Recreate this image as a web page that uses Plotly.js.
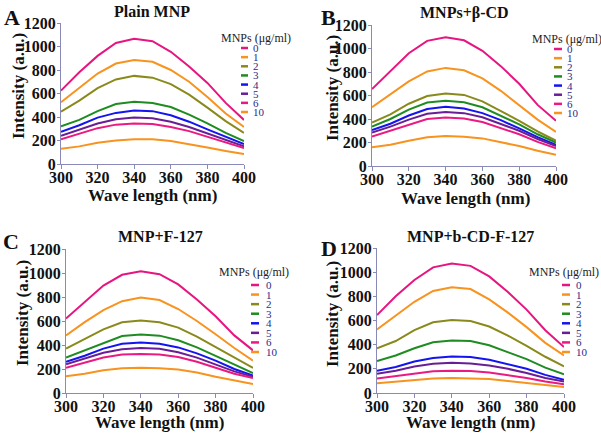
<!DOCTYPE html>
<html>
<head>
<meta charset="utf-8">
<script src="https://cdn.plot.ly/plotly-3.0.1.min.js"></script>
<style>
  html, body { margin: 0; padding: 0; background: #fff; }
  #chart { width: 601px; height: 435px; }
</style>
</head>
<body>
<div id="chart"></div>
<script>
// wavelength (nm) and MNP concentrations (µg/ml)
const wavelength = [300, 310, 320, 330, 340, 350, 360, 370, 380, 390, 400];
const concentrations = ["0", "1", "2", "3", "4", "5", "6", "10"];
const panelTitles = ["Plain MNP", "MNPs+\u03b2-CD", "MNP+F-127", "MNP+b-CD-F-127"];
const panelLetters = ["A", "B", "C", "D"];

// intensity (a.u.), one row per concentration
const plainMNP = [
  [625, 780, 920, 1030, 1065, 1045, 955, 830, 690, 520, 375],
  [525, 650, 770, 855, 885, 870, 800, 700, 570, 430, 315],
  [445, 540, 645, 720, 750, 735, 680, 590, 480, 365, 265],
  [320, 375, 450, 510, 530, 520, 485, 420, 345, 265, 195],
  [275, 330, 395, 435, 455, 450, 415, 360, 295, 230, 170],
  [240, 290, 345, 380, 395, 390, 360, 315, 260, 200, 150],
  [210, 255, 305, 335, 345, 340, 315, 280, 230, 180, 135],
  [130, 150, 180, 200, 210, 210, 195, 170, 140, 110, 85]
];
const mnpBetaCD = [
  [655, 810, 960, 1065, 1095, 1070, 980, 850, 700, 520, 385],
  [500, 610, 720, 805, 835, 815, 745, 640, 520, 395, 290],
  [370, 440, 530, 595, 618, 605, 550, 470, 385, 295, 215],
  [335, 400, 480, 540, 555, 542, 500, 430, 355, 270, 200],
  [305, 360, 430, 485, 505, 490, 450, 390, 320, 245, 180],
  [285, 335, 395, 445, 460, 450, 415, 360, 300, 230, 170],
  [250, 300, 355, 400, 412, 405, 375, 325, 270, 205, 150],
  [160, 180, 215, 245, 255, 250, 235, 205, 170, 130, 95]
];
const mnpF127 = [
  [620, 760, 895, 985, 1015, 990, 905, 780, 640, 480, 355],
  [480, 590, 690, 765, 795, 775, 700, 600, 490, 375, 270],
  [370, 450, 530, 590, 605, 590, 545, 470, 385, 295, 210],
  [295, 355, 420, 475, 487, 478, 440, 380, 310, 235, 165],
  [260, 310, 370, 410, 420, 410, 380, 330, 270, 200, 145],
  [240, 285, 335, 365, 375, 368, 340, 295, 240, 180, 135],
  [210, 250, 295, 320, 325, 320, 300, 260, 210, 160, 125],
  [140, 160, 190, 207, 210, 207, 195, 170, 135, 105, 75]
];
const mnpBCDF127 = [
  [645, 800, 935, 1040, 1072, 1052, 965, 835, 690, 520, 380],
  [525, 640, 755, 845, 875, 860, 775, 665, 545, 415, 310],
  [370, 430, 520, 585, 605, 595, 550, 475, 390, 300, 220],
  [265, 310, 370, 420, 435, 430, 395, 340, 280, 210, 155],
  [185, 215, 260, 290, 302, 298, 275, 240, 200, 150, 110],
  [160, 185, 220, 242, 250, 245, 228, 200, 165, 125, 95],
  [120, 140, 165, 180, 185, 182, 170, 150, 125, 95, 72],
  [80, 95, 110, 120, 125, 123, 115, 100, 85, 65, 50]
];

const lineColors = ["#e6157f", "#f7931e", "#8a8a1c", "#1f8c22", "#1414f0", "#6a1e96", "#ea1a82", "#f7931e"];

const W = 601, H = 435;
const px = v => v / W;
const py = v => 1 - v / H;

// pixel boxes for each panel, plus where its text sits
const panels = [
  { data: plainMNP, box: [61, 244, 23, 164], title: [152, 11], letter: [12, 18], xt: [152, 195], yt: [18, 86],
    leg: { head: [256, 38], lx: [241, 248], tx: 251, y0: 48, y1: 112 } },
  { data: mnpBetaCD, box: [372, 556, 25, 166], title: [464, 13], letter: [328, 17], xt: [465, 198], yt: [332, 88],
    leg: { head: [567, 39], lx: [554, 562], tx: 565, y0: 49, y1: 113 } },
  { data: mnpF127, box: [66, 253, 249, 393], title: [160, 236], letter: [11, 242], xt: [159, 422], yt: [22, 313],
    leg: { head: [254, 272], lx: [251, 259], tx: 264, y0: 285, y1: 352 } },
  { data: mnpBCDF127, box: [377, 564, 248, 393], title: [470, 236], letter: [329, 248], xt: [470, 422], yt: [332, 314],
    leg: { head: [564, 272], lx: [562, 570], tx: 574, y0: 285, y1: 352 } }
];

const axisColor = "#8a8ab8";
const serif = "Liberation Serif";

const traces = [];
const annotations = [];
const shapes = [];
const layout = {
  width: W, height: H,
  margin: { l: 0, r: 0, t: 0, b: 0 },
  paper_bgcolor: "#fff", plot_bgcolor: "#fff",
  showlegend: false,
  font: { family: serif, color: "#111" }
};

panels.forEach((p, k) => {
  const n = k === 0 ? "" : String(k + 1);
  const [x0, x1, y0, y1] = p.box;
  layout["xaxis" + n] = {
    domain: [px(x0), px(x1)], anchor: "y" + n, range: [300, 400], dtick: 20,
    showgrid: false, zeroline: false, showline: true, linecolor: axisColor, linewidth: 1,
    ticks: "outside", ticklen: 4, tickcolor: axisColor, ticklabelstandoff: -5,
    tickprefix: "<b>", ticksuffix: "</b>",
    tickfont: { family: serif, size: 16, color: "#111" }
  };
  layout["yaxis" + n] = {
    domain: [py(y1), py(y0)], anchor: "x" + n, range: [0, 1200], dtick: 200,
    showgrid: false, zeroline: false, showline: true, linecolor: axisColor, linewidth: 1,
    ticks: "outside", ticklen: 3, tickcolor: axisColor, ticklabelstandoff: -2,
    tickprefix: "<b>", ticksuffix: "</b>",
    tickfont: { family: serif, size: 16, color: "#111" }
  };

  p.data.forEach((row, i) => {
    traces.push({
      x: wavelength, y: row, type: "scatter", mode: "lines",
      name: concentrations[i], xaxis: "x" + n, yaxis: "y" + n,
      line: { color: lineColors[i], width: 2 }, hoverinfo: "skip"
    });
  });

  annotations.push(
    { text: "<b>" + panelTitles[k] + "</b>", x: px(p.title[0]), y: py(p.title[1]),
      font: { size: 16, family: serif, color: "#111" } },
    { text: "<b>" + panelLetters[k] + "</b>", x: px(p.letter[0]), y: py(p.letter[1]),
      font: { size: 22, family: serif, color: "#111" } },
    { text: "<b>Wave length (nm)</b>", x: px(p.xt[0]), y: py(p.xt[1]),
      font: { size: 17, family: serif, color: "#111" } },
    { text: "<b>Intensity (a.u.)</b>", x: px(p.yt[0]), y: py(p.yt[1]), textangle: -90,
      font: { size: 17, family: serif, color: "#111" } },
    { text: "MNPs (\u03bcg/ml)", x: px(p.leg.head[0]), y: py(p.leg.head[1]),
      font: { size: 12, family: serif, color: "#222" } }
  );

  const step = (p.leg.y1 - p.leg.y0) / (concentrations.length - 1);
  concentrations.forEach((c, i) => {
    const yy = p.leg.y0 + i * step;
    shapes.push({
      type: "line", xref: "paper", yref: "paper",
      x0: px(p.leg.lx[0]), x1: px(p.leg.lx[1]), y0: py(yy), y1: py(yy),
      line: { color: lineColors[i], width: 2.5 }
    });
    annotations.push({
      text: c, x: px(p.leg.tx), y: py(yy), xanchor: "left",
      font: { size: 11, family: serif, color: "#2b2b86" }
    });
  });
});

annotations.forEach(a => {
  a.xref = "paper"; a.yref = "paper"; a.showarrow = false;
  if (!a.xanchor) a.xanchor = "center";
  a.yanchor = "middle";
});
layout.annotations = annotations;
layout.shapes = shapes;

Plotly.newPlot("chart", traces, layout, { displayModeBar: false, staticPlot: true });
</script>
</body>
</html>
